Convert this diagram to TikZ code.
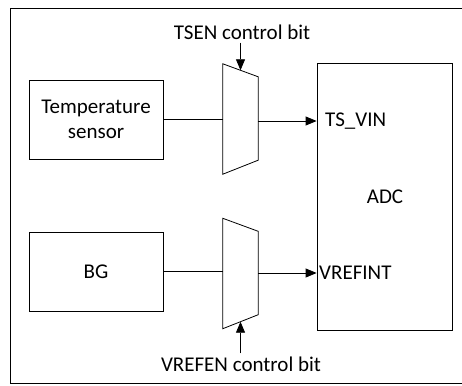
\documentclass[tikz,border=0pt]{standalone}
\usepackage{fontspec}
\setmainfont{Carlito}
\usetikzlibrary{positioning,arrows.meta,calc}
\tikzset{
  sigarrow/.style={-{Triangle[length=11pt,width=9pt]}, line width=0.8pt},
  sigline/.style={line width=0.8pt},
  blockbox/.style={draw, line width=0.8pt, minimum width=134pt, minimum height=79pt, align=center, inner sep=0pt},
  adcbox/.style={draw, line width=0.8pt, minimum width=135pt, minimum height=267pt, inner sep=0pt},
  muxbody/.style={minimum width=35pt, minimum height=110pt, inner sep=0pt},
  muxline/.style={line width=0.8pt, line join=miter},
  pinlabel/.style={anchor=west, inner sep=0pt},
  ctrllabel/.style={inner sep=3pt}
}

\begin{document}
\begin{tikzpicture}[x=1pt, y=-1pt, every node/.style={font=\fontsize{21}{25}\selectfont}]
  \useasboundingbox (0,0) rectangle (462,385);
  \draw[line width=0.8pt] (462,8) -- (10,8) -- (10,383.5) -- (462,383.5);

  % source blocks
  \node[blockbox] (temp) at (96,119.5) {Temperature\\sensor};
  \node[blockbox] (bg) at (96,271.5) {BG};

  % ADC
  \node[adcbox] (adc) at (384.5,196.5) {};
  \node (adclabel) at (385,197) {ADC};
  \node[pinlabel] (tsvin) at (325,121) {TS\_VIN};
  \node[pinlabel] (vrefint) at (319,273) {VREFINT};

  % muxes
  \node[muxbody] (mux1) at (240.5,119) {};
  \node[muxbody] (mux2) at (240.5,273.5) {};
  \foreach \m in {mux1,mux2}
    \draw[muxline] (\m.north west) -- ([yshift=-13pt]\m.north east)
      -- ([yshift=14pt]\m.south east) -- (\m.south west) -- cycle;
  \coordinate (mux1top) at ($(mux1.north west)!0.5!([yshift=-13pt]mux1.north east)$);
  \coordinate (mux2bot) at ($(mux2.south west)!0.5!([yshift=14pt]mux2.south east)$);

  % control bits
  \node[ctrllabel] (tsen) at (242,32) {TSEN control bit};
  \node[ctrllabel] (vrefen) at (241,364) {VREFEN control bit};
  \draw[sigarrow] (tsen.south -| mux1top) -- (mux1top);
  \draw[sigarrow] (vrefen.north -| mux2bot) -- (mux2bot);

  % signal paths
  \draw[sigline] (temp.east) -- (temp.east -| mux1.west);
  \draw[sigline] (bg.east) -- (bg.east -| mux2.west);
  \draw[sigarrow] (mux1.east |- tsvin) -- (adc.west |- tsvin);
  \draw[sigarrow] (mux2.east |- vrefint) -- (adc.west |- vrefint);
\end{tikzpicture}
\end{document}
